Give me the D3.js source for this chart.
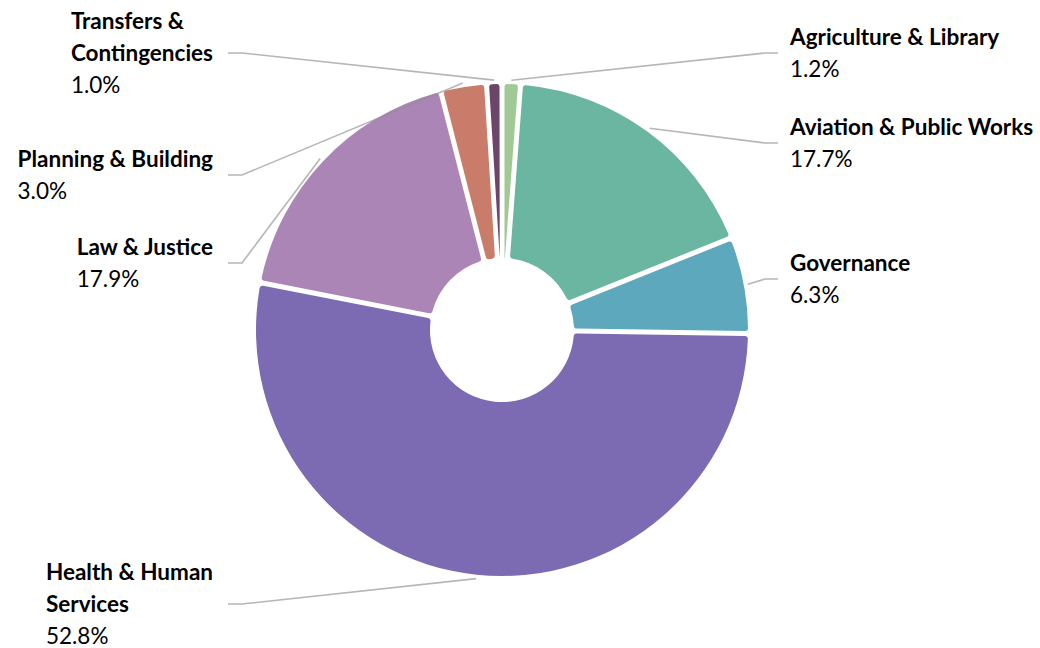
<!DOCTYPE html>
<html>
<head>
<meta charset="utf-8">
<script src="https://cdn.jsdelivr.net/npm/d3@7"></script>
<style>
  body { margin: 0; background: #fff; }
  svg { display: block; }
  text { font-family: Lato, "Noto Sans", sans-serif; fill: #000; }
  .name { font-weight: 700; }
</style>
</head>
<body>
<div id="main"></div>
<script>
// data
const categories = ['Agriculture & Library', 'Aviation & Public Works', 'Governance',
  'Health & Human Services', 'Law & Justice', 'Planning & Building', 'Transfers & Contingencies'];
const shares = [1.2, 17.7, 6.3, 52.8, 17.9, 3.0, 1.0];
const nameLines = [['Agriculture & Library'], ['Aviation & Public Works'], ['Governance'],
  ['Health & Human', 'Services'], ['Law & Justice'], ['Planning & Building'], ['Transfers &', 'Contingencies']];
const colors = ['#a1c995', '#6bb6a1', '#5da8bd', '#7c6ab3', '#ab85b6', '#c97c6a', '#6d4568'];

// label layout: vertical offset of each leader elbow from the chart centre
const labelDy = [-277, -187, -51, 274, -67, -155, -277];

const width = 1040, height = 648;
const cx = 502, cy = 330;
const outerR = 246, innerR = 72, lineH = 32;

let svg = d3.select('#main').append('svg')
  .attr('width', width).attr('height', height);

let pie = d3.pie().sort(null).value(d => d.value);
let arcs = pie(categories.map((c, i) => ({ name: c, value: shares[i], i: i })));

let arc = d3.arc()
  .innerRadius(innerR)
  .outerRadius(outerR)
  .cornerRadius(3)
  .padRadius(outerR)
  .padAngle(5 / outerR);

let g = svg.append('g').attr('transform', `translate(${cx}, ${cy})`);

g.selectAll('path.slice').data(arcs).join('path')
  .classed('slice', true)
  .attr('d', arc)
  .style('fill', d => colors[d.data.i]);

let fmt = d3.format('.1f');

arcs.forEach(d => {
  let mid = (d.startAngle + d.endAngle) / 2;
  let right = Math.sin(mid) > 0;
  let sx = 250 * Math.sin(mid), sy = -250 * Math.cos(mid);
  let ey = labelDy[d.data.i];
  let ex = right ? 263 : -260;
  let tx = right ? 276 : -274;

  g.append('polyline')
    .attr('points', [[sx, sy], [ex, ey], [tx, ey]].map(p => p.join(',')).join(' '))
    .style('fill', 'none')
    .style('stroke', '#8f8f8f')
    .style('stroke-opacity', 0.65)
    .style('stroke-width', '1.6px');

  let lines = nameLines[d.data.i].map(t => ({ t: t, bold: true }))
    .concat([{ t: fmt(d.data.value) + '%', bold: false }]);
  let top = ey - lines.length * lineH / 2;

  let lab = g.append('g');
  let texts = lab.selectAll('text').data(lines).join('text')
    .classed('name', l => l.bold)
    .attr('y', (l, k) => top + 24 + k * lineH)
    .style('font-size', '22.5px')
    .text(l => l.t);

  let maxW = d3.max(texts.nodes(), n => n.getComputedTextLength());
  let x0 = right ? 288 : -289 - maxW;
  texts.attr('x', x0);
});
</script>
</body>
</html>
